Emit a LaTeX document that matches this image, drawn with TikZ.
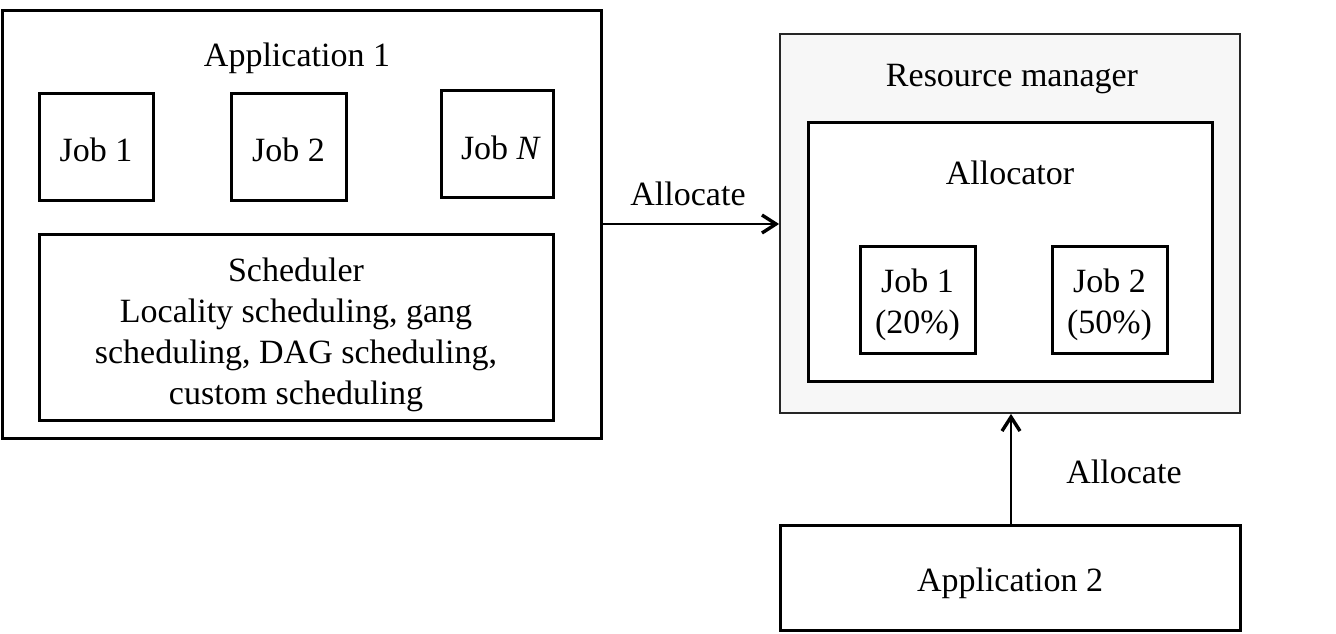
\documentclass[tikz,border=0pt]{standalone}
\usepackage{fontspec}
\setmainfont{Liberation Serif}
\usetikzlibrary{arrows.meta}
\tikzset{
  thickbox/.style={draw=black, line width=1.5pt, fill=white, inner sep=0pt},
  thinbox/.style={draw=black!85, line width=0.9pt, inner sep=0pt},
  lbl/.style={font=\fontsize{17}{20.5}\selectfont, align=center, inner sep=0pt},
  conn/.style={line width=0.9pt, -{Straight Barb[length=7pt,width=9pt,line width=1.7pt]}}
}
\begin{document}
\begin{tikzpicture}[x=0.5pt,y=-0.5pt]
\useasboundingbox (0,0) rectangle (1336,633);
\fill[white] (0,0) rectangle (1336,633);
% glow around resource manager
\foreach \i in {0,2,...,44}{
  \fill[black, opacity=0.0016, rounded corners=\i*0.5pt] (780-\i,34-\i) rectangle (1240+\i,413+\i);
}
% Application 1
\node[thickbox, minimum width=299.5pt, minimum height=214pt] (app1) at (301.5,224) {};
\node[lbl] (app1t) at (297,58) {Application 1};
\node[thickbox, minimum width=57pt, minimum height=53.5pt] (j1) at (96,146.5) {};
\node[lbl] at ([yshift=-1.5pt]j1.center) {Job 1};
\node[thickbox, minimum width=57.5pt, minimum height=53.5pt] (j2) at (288.5,146.5) {};
\node[lbl] at ([yshift=-1.5pt]j2.center) {Job 2};
\node[thickbox, minimum width=56pt, minimum height=53.5pt] (jn) at (497,143.5) {};
\node[lbl] at ([xshift=2pt,yshift=-2pt]jn.center) {Job \textit{N}};
\node[thickbox, minimum width=257pt, minimum height=93pt] (sched) at (296,327) {};
\node[lbl] at ([yshift=-4pt]sched.center) {Scheduler\\Locality scheduling, gang\\scheduling, DAG scheduling,\\custom scheduling};
% Resource manager
\node[thinbox, fill=white!97!black, minimum width=230pt, minimum height=189.5pt] (rm) at (1010,223.5) {};
\node[lbl] (rmt) at (1012,79) {Resource manager};
\node[thickbox, minimum width=202pt, minimum height=129.5pt] (alloc) at (1010,251.5) {};
\node[lbl] (alloct) at (1010,173) {Allocator};
\node[thickbox, minimum width=57.5pt, minimum height=53.5pt] (a1) at (917.5,299.5) {};
\node[lbl] at ([yshift=-2.5pt]a1.center) {Job 1\\(20\%)};
\node[thickbox, minimum width=57.5pt, minimum height=53.5pt] (a2) at (1109.5,299.5) {};
\node[lbl] at ([yshift=-2.5pt]a2.center) {Job 2\\(50\%)};
% Application 2
\node[thickbox, minimum width=230pt, minimum height=52.5pt] (app2) at (1010,577.5) {};
\node[lbl] at ([yshift=-3pt]app2.center) {Application 2};
% connectors
\draw[conn] (app1.east |- 0,224) -- (rm.west |- 0,224);
\node[lbl] at (688,194) {Allocate};
\draw[conn] (app2.north -| 1011,0) -- (rm.south -| 1011,0);
\node[lbl] at (1124,472) {Allocate};
\end{tikzpicture}
\end{document}
